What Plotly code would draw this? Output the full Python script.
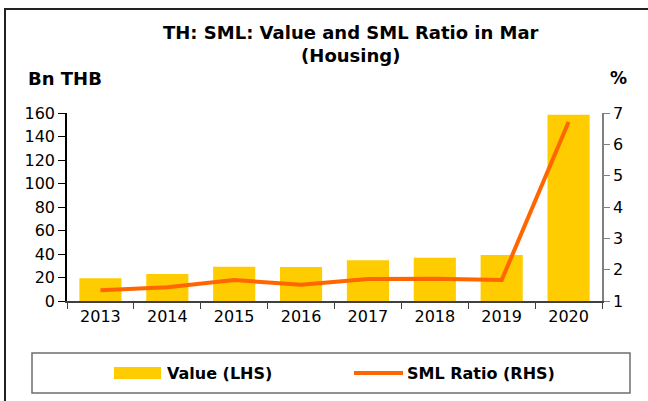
import plotly.graph_objects as go

years = ["2013", "2014", "2015", "2016", "2017", "2018", "2019", "2020"]
value_bn_thb = [19.3, 23.0, 29.2, 29.0, 34.6, 36.9, 39.1, 158.5]
sml_ratio = [1.34, 1.44, 1.67, 1.52, 1.70, 1.71, 1.67, 6.71]

W, H = 648, 401
L, R, T, B = 67, 602, 113, 301  # plot area in pixels
FONT = "DejaVu Sans"


def px(x):
    # pixel x -> paper x
    return (x - L) / (R - L)


def py(y):
    # pixel y -> paper y
    return (B - y) / (B - T)


fig = go.Figure()
fig.add_trace(go.Bar(x=years, y=value_bn_thb, name="Value (LHS)", marker_color="#FFCC00",
                     marker_line_width=0, width=0.63, yaxis="y"))
fig.add_trace(go.Scatter(x=years, y=sml_ratio, name="SML Ratio (RHS)", mode="lines",
                         line=dict(color="#FF6600", width=4), yaxis="y2"))

fig.update_layout(
    width=W, height=H,
    margin=dict(l=L, r=W - R, t=T, b=H - B, pad=0),
    plot_bgcolor="white", paper_bgcolor="white",
    showlegend=False,
    font=dict(family=FONT, size=16, color="black"),
    xaxis=dict(type="category", showgrid=False, showline=True, linecolor="#404040", linewidth=1.5,
               ticks="outside", tickson="boundaries", ticklen=6, tickcolor="#404040",
               tickfont=dict(size=16)),
    yaxis=dict(range=[0, 160], dtick=20, showgrid=False, zeroline=False, showline=True,
               linecolor="black", linewidth=1.5, ticks="outside", ticklen=7, tickcolor="black",
               tickfont=dict(size=16)),
    yaxis2=dict(range=[1, 7], dtick=1, overlaying="y", side="right", showgrid=False, zeroline=False,
                showline=True, linecolor="#808080", linewidth=1.5, ticks="outside", ticklen=6,
                tickcolor="#808080", tickfont=dict(size=16)),
)

shapes = [
    # outer frame
    dict(type="rect", xref="paper", yref="paper", x0=px(5), x1=px(700), y0=py(9), y1=py(450),
         line=dict(color="#222222", width=2)),
    # legend box
    dict(type="rect", xref="paper", yref="paper", x0=px(32), x1=px(630), y0=py(353), y1=py(393),
         line=dict(color="#6e6e6e", width=1.5)),
    # legend swatches
    dict(type="rect", xref="paper", yref="paper", x0=px(114), x1=px(161), y0=py(367), y1=py(379),
         fillcolor="#FFCC00", line=dict(width=0)),
    dict(type="line", xref="paper", yref="paper", x0=px(354), x1=px(403), y0=py(373), y1=py(373),
         line=dict(color="#FF6600", width=4)),
]

annotations = [
    dict(text="<b>TH: SML: Value and SML Ratio in Mar<br>(Housing)</b>", x=px(351), y=py(44),
         xanchor="center", yanchor="middle", font=dict(size=18)),
    dict(text="<b>Bn THB</b>", x=px(26), y=py(78), xanchor="left", yanchor="middle", font=dict(size=18)),
    dict(text="<b>%</b>", x=px(618), y=py(78), xanchor="center", yanchor="middle", font=dict(size=17)),
    dict(text="<b>" + fig.data[0].name + "</b>", x=px(165), y=py(373), xanchor="left", yanchor="middle",
         font=dict(size=16)),
    dict(text="<b>" + fig.data[1].name + "</b>", x=px(405), y=py(373), xanchor="left", yanchor="middle",
         font=dict(size=16)),
]
for a in annotations:
    a.update(xref="paper", yref="paper", showarrow=False)

fig.update_layout(shapes=shapes, annotations=annotations)

# the page body has a default 8px margin; drop it so the figure sits at the window origin
fig.write_html("out.html", config={"displayModeBar": False},
               post_script="document.body.style.margin='0';")
